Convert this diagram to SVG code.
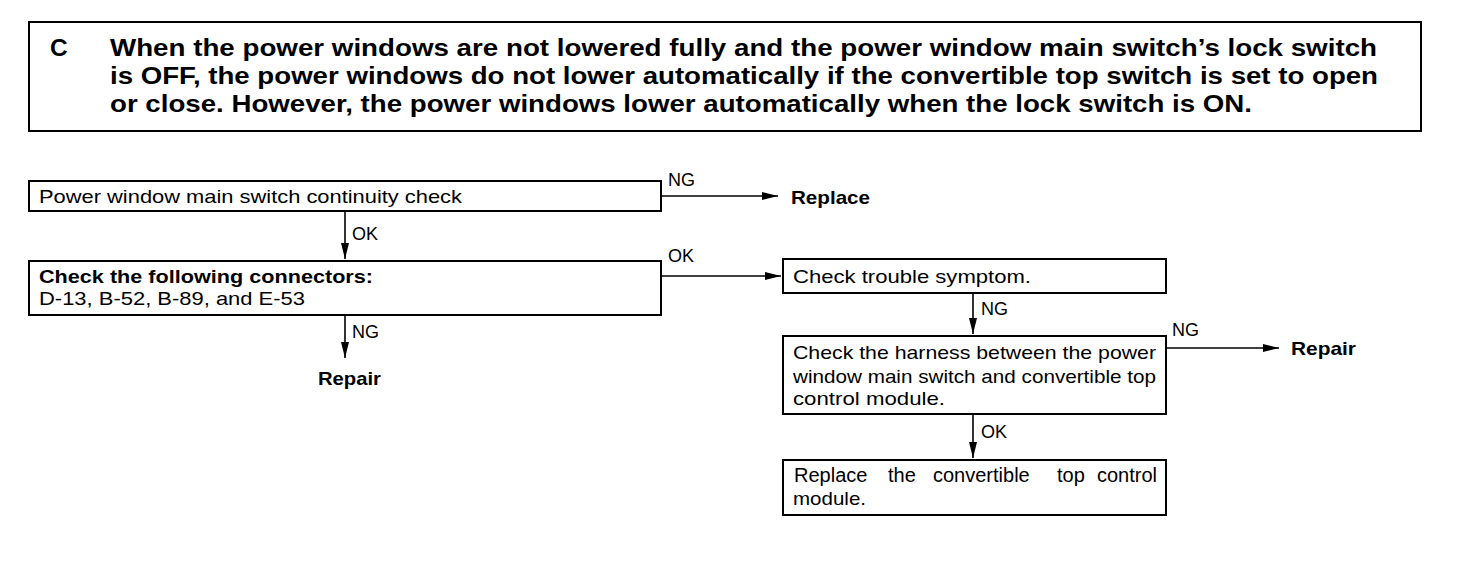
<svg xmlns="http://www.w3.org/2000/svg" width="1472" height="582" viewBox="0 0 1472 582">
<style>
.box{fill:#fff;stroke:#000;stroke-width:2}
.t{font-family:"Liberation Sans",Arial,sans-serif;font-size:19px;fill:#000}
.b{font-weight:bold}
.h{font-family:"Liberation Sans",Arial,sans-serif;font-size:24.5px;font-weight:bold;fill:#000}
.lbl{font-family:"Liberation Sans",Arial,sans-serif;font-size:18px;fill:#000}
.c{stroke:#000;stroke-width:1.6;fill:none}
</style>
<defs>
<marker id="ah" viewBox="0 0 16 8" refX="16" refY="4" markerWidth="16" markerHeight="8" markerUnits="userSpaceOnUse" orient="auto">
<path d="M0,0 L16,4 L0,8 z" fill="#000"/>
</marker>
</defs>
<rect width="1472" height="582" fill="#fff"/>
<g id="header">
<rect class="box" x="29" y="22" width="1392" height="109" stroke-width="2.5"/>
<text class="h" x="50" y="56">C</text>
<text class="h" x="110" y="56" textLength="1267" lengthAdjust="spacingAndGlyphs">When the power windows are not lowered fully and the power window main switch’s lock switch</text>
<text class="h" x="110" y="84" textLength="1268" lengthAdjust="spacingAndGlyphs">is OFF, the power windows do not lower automatically if the convertible top switch is set to open</text>
<text class="h" x="110" y="112" textLength="1142" lengthAdjust="spacingAndGlyphs">or close. However, the power windows lower automatically when the lock switch is ON.</text>
</g>
<g id="n1">
<rect class="box" x="29" y="181" width="632" height="30"/>
<text class="t" x="39" y="203" textLength="423" lengthAdjust="spacingAndGlyphs">Power window main switch continuity check</text>
</g>
<g id="n2">
<rect class="box" x="29" y="261" width="632" height="54"/>
<text class="t b" x="39" y="283" textLength="334" lengthAdjust="spacingAndGlyphs">Check the following connectors:</text>
<text class="t" x="39" y="305" textLength="266" lengthAdjust="spacingAndGlyphs">D-13, B-52, B-89, and E-53</text>
</g>
<g id="n_replace1">
<text class="t b" x="791" y="204" textLength="79" lengthAdjust="spacingAndGlyphs">Replace</text>
</g>
<g id="n_repair1">
<text class="t b" x="318" y="385" textLength="63" lengthAdjust="spacingAndGlyphs">Repair</text>
</g>
<g id="n3">
<rect class="box" x="783" y="259" width="383" height="34"/>
<text class="t" x="793" y="283" textLength="238" lengthAdjust="spacingAndGlyphs">Check trouble symptom.</text>
</g>
<g id="n4">
<rect class="box" x="783" y="336" width="383" height="78"/>
<text class="t" x="793" y="359" textLength="363" lengthAdjust="spacingAndGlyphs">Check the harness between the power</text>
<text class="t" x="793" y="383" textLength="363" lengthAdjust="spacingAndGlyphs">window main switch and convertible top</text>
<text class="t" x="793" y="405" textLength="152" lengthAdjust="spacingAndGlyphs">control module.</text>
</g>
<g id="n_repair2">
<text class="t b" x="1291" y="355" textLength="65" lengthAdjust="spacingAndGlyphs">Repair</text>
</g>
<g id="n5">
<rect class="box" x="783" y="460" width="383" height="55"/>
<text class="t" y="482" style="font-size:20px"><tspan x="794">Replace</tspan> <tspan x="888">the</tspan> <tspan x="933">convertible</tspan> <tspan x="1057">top</tspan> <tspan x="1097">control</tspan></text>
<text class="t" x="793" y="505" textLength="73" lengthAdjust="spacingAndGlyphs">module.</text>
</g>
<g id="connectors">
<line class="c" x1="661" y1="196" x2="778" y2="196" marker-end="url(#ah)"/>
<text class="lbl" x="668" y="186">NG</text>
<line class="c" x1="345" y1="211" x2="345" y2="259" marker-end="url(#ah)"/>
<text class="lbl" x="352" y="240">OK</text>
<line class="c" x1="661" y1="276" x2="781" y2="276" marker-end="url(#ah)"/>
<text class="lbl" x="668" y="262">OK</text>
<line class="c" x1="345" y1="315" x2="345" y2="358" marker-end="url(#ah)"/>
<text class="lbl" x="352" y="338">NG</text>
<line class="c" x1="973" y1="293" x2="973" y2="334" marker-end="url(#ah)"/>
<text class="lbl" x="981" y="315">NG</text>
<line class="c" x1="1166" y1="348" x2="1279" y2="348" marker-end="url(#ah)"/>
<text class="lbl" x="1172" y="336">NG</text>
<line class="c" x1="973" y1="414" x2="973" y2="458" marker-end="url(#ah)"/>
<text class="lbl" x="981" y="438">OK</text>
</g>
</svg>
